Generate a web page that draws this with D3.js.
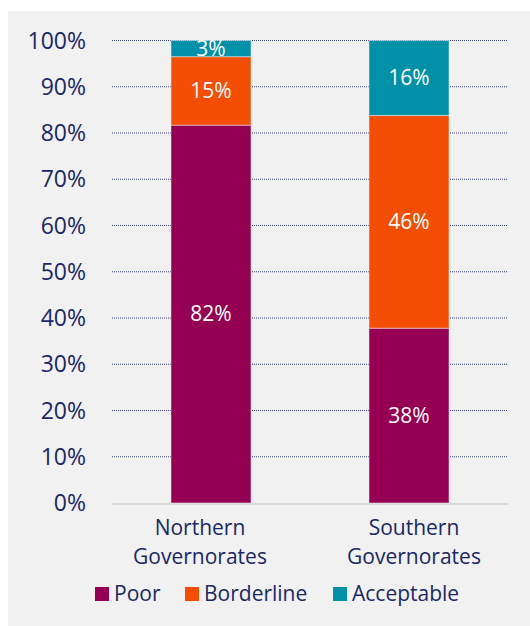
<!DOCTYPE html>
<html><head><meta charset="utf-8">
<script src="https://cdn.jsdelivr.net/npm/d3@7"></script>
<style>body{margin:0;background:#fff;} svg{display:block;font-family:"Open Sans","Noto Sans",sans-serif;}</style>
</head><body>
<script>
const categories = [["Northern","Governorates"],["Southern","Governorates"]];
const seriesNames = ["Poor","Borderline","Acceptable"];
const poor = [81.7, 37.8];
const borderline = [14.8, 46.0];
const acceptable = [3.5, 16.2];
const poorLabels = ["82%","38%"];
const borderlineLabels = ["15%","46%"];
const acceptableLabels = ["3%","16%"];
const yTicks = [0,10,20,30,40,50,60,70,80,90,100];
const colors = ["#960052","#f34e04","#0090a8"];

const W=530,H=626;
const svg=d3.select("body").append("svg").attr("width",W).attr("height",H);
svg.append("rect").attr("x",8).attr("y",11).attr("width",W-8).attr("height",H-11).attr("fill","#f1f1f1");

const x=d3.scaleBand().domain([0,1]).range([112,508]).paddingInner(0.6).paddingOuter(0.3);
const y=d3.scaleLinear().domain([0,100]).range([503,40.5]);
const textCol="#1b2766";
const catLabelShift=[-11,5];

// gridlines
svg.append("g").selectAll("line").data(yTicks.filter(d=>d>0)).join("line")
  .attr("x1",112).attr("x2",508).attr("y1",d=>y(d)).attr("y2",d=>y(d))
  .attr("stroke","#3a4480").attr("stroke-width",1).attr("stroke-dasharray","1,1");
svg.append("line").attr("x1",112).attr("x2",508).attr("y1",y(0)+1).attr("y2",y(0)+1)
  .attr("stroke","#d9d9d9").attr("stroke-width",2);

// y axis labels
svg.append("g").selectAll("text").data(yTicks).join("text")
  .attr("x",86).attr("y",d=>y(d)).attr("dy","0.35em").attr("text-anchor","end")
  .attr("font-size",23).attr("fill",textCol).text(d=>d+"%");

const series=[poor,borderline,acceptable];
const labels=[poorLabels,borderlineLabels,acceptableLabels];
const bw=80;
[0,1].forEach(i=>{
  let base=0;
  const cx=x(i)+x.bandwidth()/2;
  series.forEach((s,k)=>{
    const v=s[i];
    svg.append("rect").attr("x",cx-bw/2).attr("width",bw)
      .attr("y",y(base+v)).attr("height",y(base)-y(base+v))
      .attr("fill",colors[k]).attr("stroke","#f1f1f1").attr("stroke-opacity",0.5).attr("stroke-width",1);
    svg.append("text").attr("x",cx).attr("y",(y(base)+y(base+v))/2).attr("dy","0.35em")
      .attr("text-anchor","middle").attr("font-size",21).attr("fill","#fff").text(labels[k][i]);
    base+=v;
  });
  const t=svg.append("text").attr("text-anchor","middle").attr("font-size",21).attr("fill",textCol);
  categories[i].forEach((line,j)=>{
    t.append("tspan").attr("x",cx+catLabelShift[i]).attr("y",535+j*29).text(line);
  });
});

// legend
const legX=[95,185,333];
seriesNames.forEach((n,k)=>{
  svg.append("rect").attr("x",legX[k]).attr("y",587).attr("width",14).attr("height",14).attr("fill",colors[k]);
  svg.append("text").attr("x",legX[k]+19).attr("y",594).attr("dy","0.35em").attr("font-size",21).attr("fill",textCol).text(n);
});
</script>
</body></html>
